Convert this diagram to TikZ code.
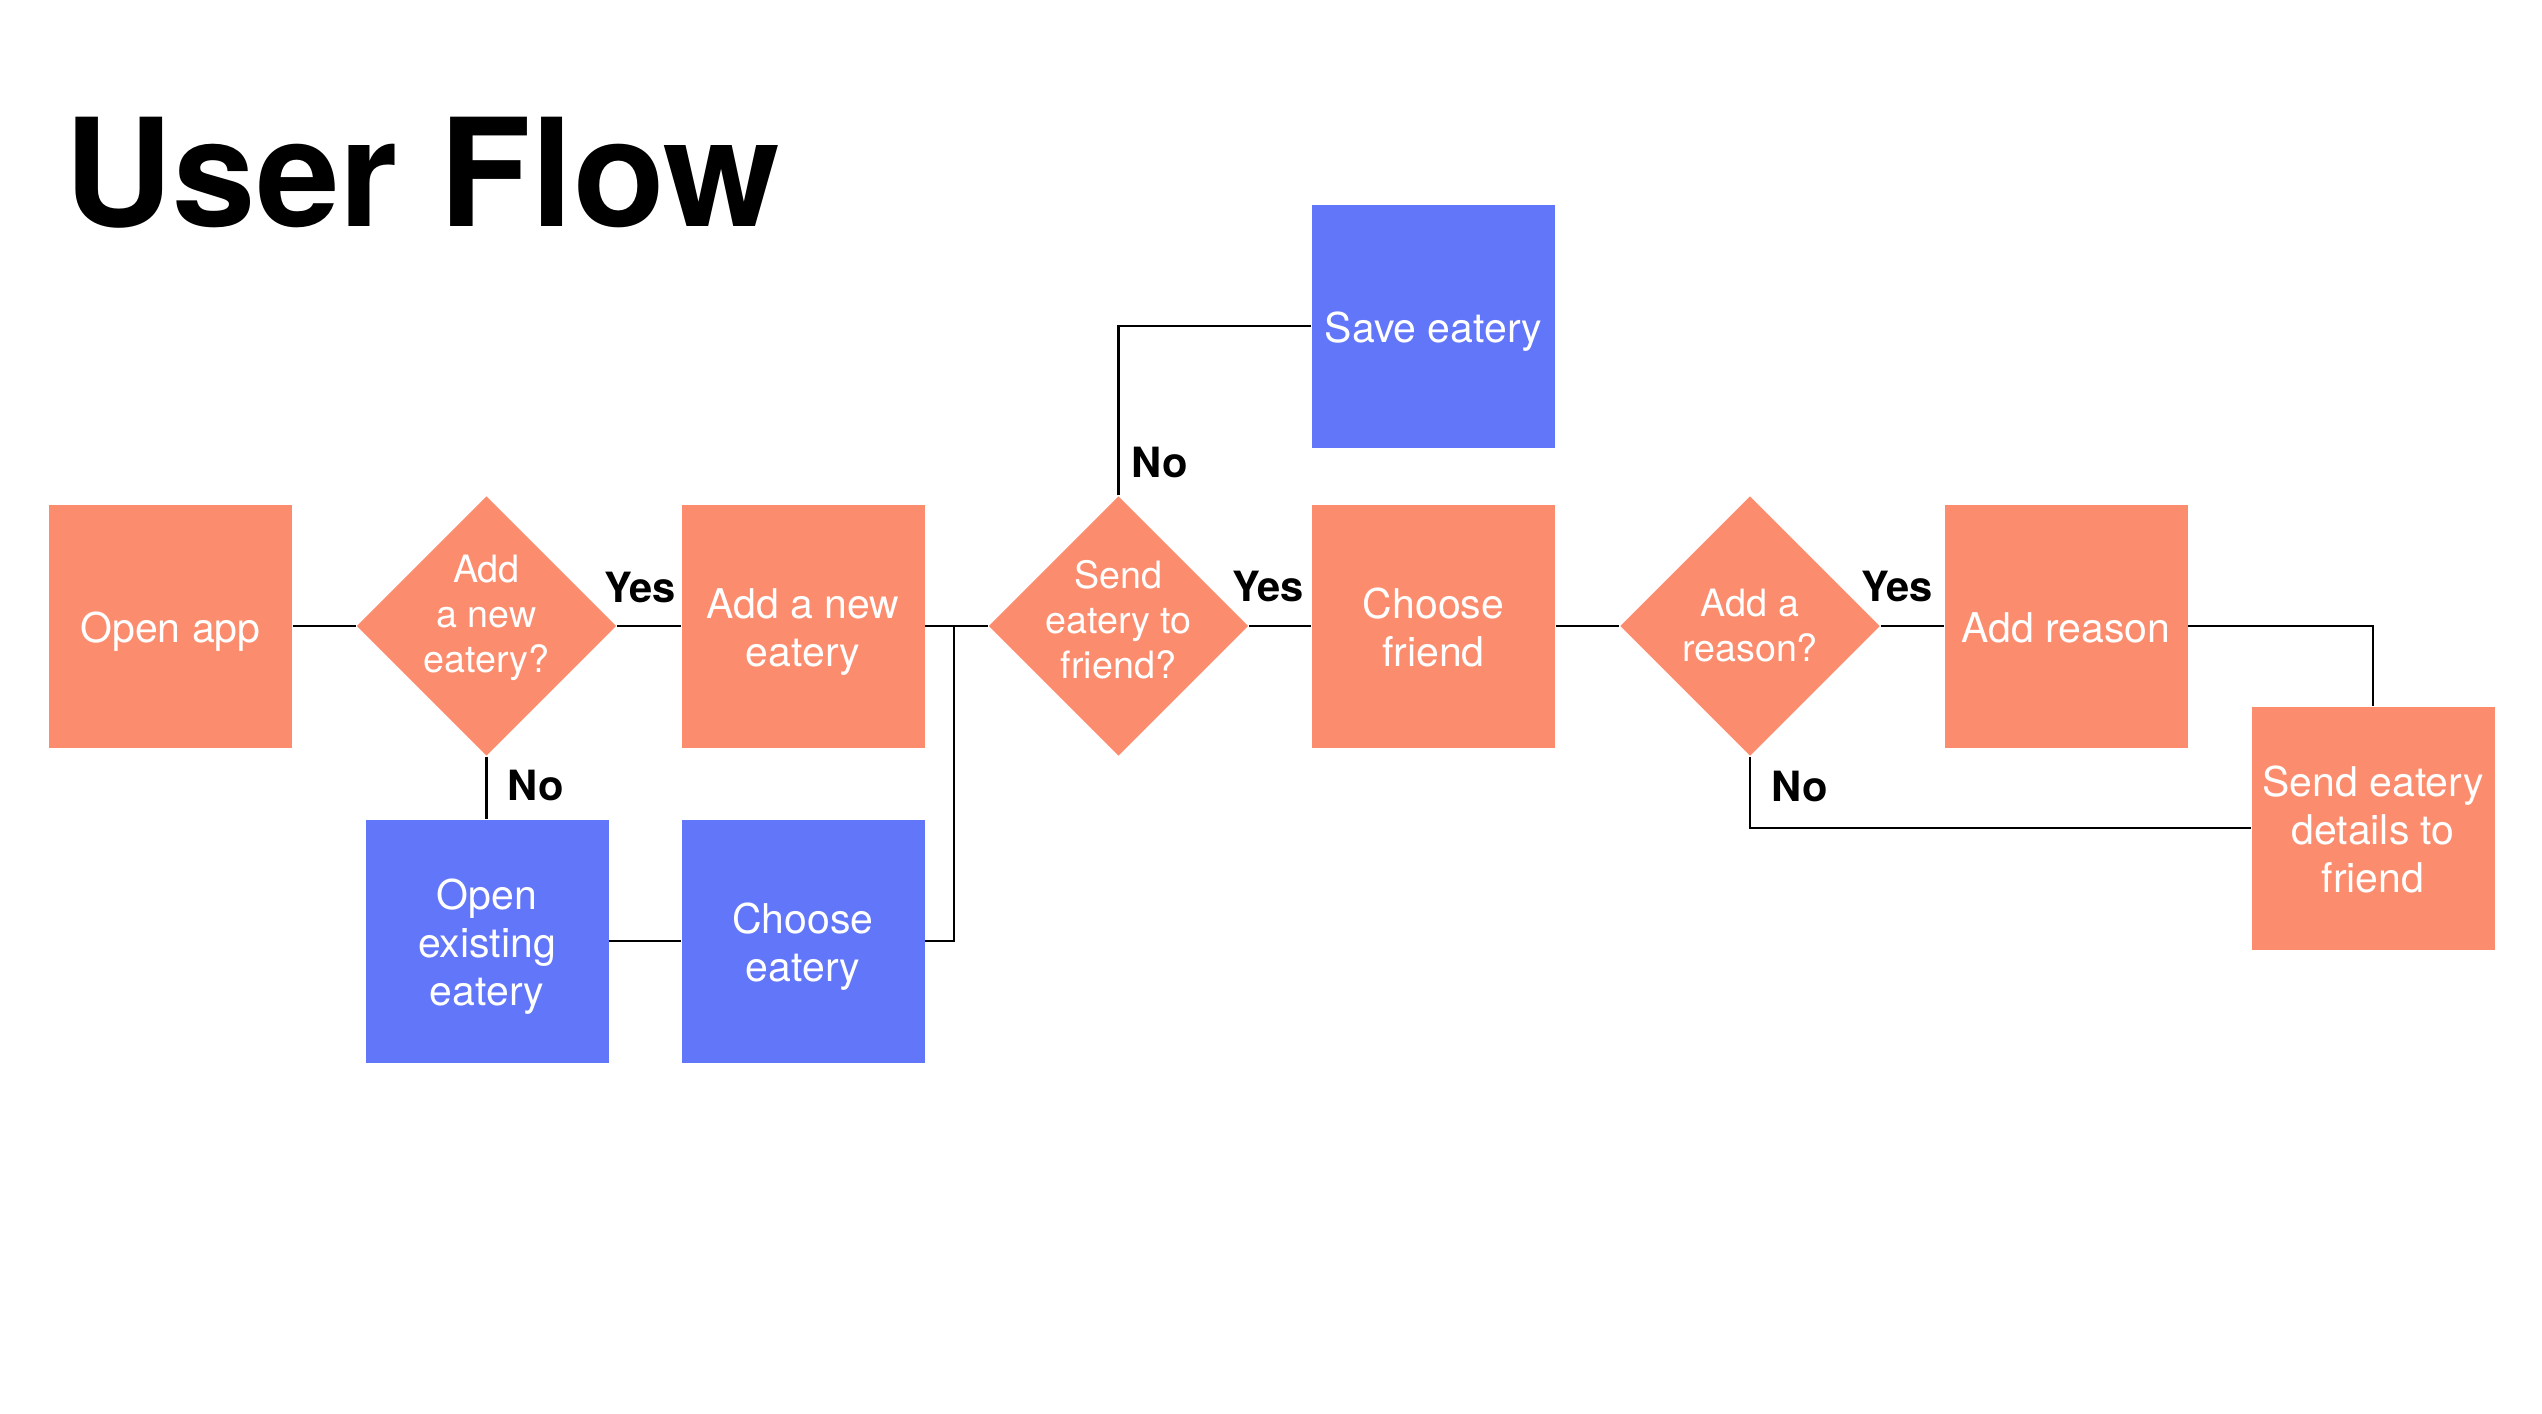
\documentclass[tikz,border=0pt]{standalone}
\usepackage{fontspec}
\setmainfont{TeX Gyre Heros}
\usetikzlibrary{shapes.geometric,calc}
\definecolor{salmon}{RGB}{252,140,110}
\definecolor{bluebox}{RGB}{98,118,250}
\newcommand\bxtop{\rule{0pt}{12.6pt}}
\newcommand\bxbot{\rule[-3pt]{0pt}{0pt}}
\begin{document}
\begin{tikzpicture}[x=0.3pt,y=-0.3pt,
  box/.style={rectangle, minimum width=72.9pt, minimum height=72.9pt, inner sep=0pt,
    text=white, align=center, font=\fontsize{12.3}{14.4}\selectfont},
  obox/.style={box, fill=salmon},
  bbox/.style={box, fill=bluebox},
  dia/.style={diamond, fill=salmon, minimum width=78pt, minimum height=78pt, inner sep=0pt, shape aspect=1},
  dtext/.style={text=white, align=center, inner sep=0pt, font=\fontsize{11.3}{13.5}\selectfont},
  lab/.style={anchor=base west, inner sep=0pt, font=\bfseries\fontsize{12.5}{14}\selectfont},
  conn/.style={draw=black, line width=0.75pt}
]
\useasboundingbox[fill=white] (0,0) rectangle (2542,1414);

\node[anchor=base west, inner sep=0pt, font=\bfseries\fontsize{45}{50}\selectfont] (title) at (64,226) {User Flow};

% main row
\node[obox] (open) at (170.5,626) {\bxtop Open app\bxbot};
\node[dia] (d1) at (486.5,626) {};
\node[dtext] (d1t) at (486.5,618) {Add\\a new\\eatery?};
\node[obox] (addnew) at (803,626) {\bxtop Add a new\\eatery\bxbot};
\node[dia] (d2) at (1118.5,626) {};
\node[dtext] (d2t) at (1118.5,620) {Send\\eatery to\\friend?};
\node[obox] (cf) at (1433.5,626) {\bxtop Choose\\friend\bxbot};
\node[dia] (d3) at (1750,626) {};
\node[dtext] (d3t) at (1750,626) {Add a\\reason?};
\node[obox] (ar) at (2066,626) {\bxtop Add reason\bxbot};
\node[obox] (send) at (2373,828) {\bxtop Send eatery\\details to\\friend\bxbot};

% blue boxes
\node[bbox] (save) at (1433.5,326) {\bxtop Save eatery\bxbot};
\node[bbox] (oe) at (487,941) {\bxtop Open\\existing\\eatery\bxbot};
\node[bbox] (ce) at (803,941) {\bxtop Choose\\eatery\bxbot};

\coordinate (j) at (954,626);

% connectors
\draw[conn] (open) -- (d1);
\draw[conn] (d1) -- (addnew);
\draw[conn] (d1.south) -- (d1.south |- oe.north);
\draw[conn] (oe) -- (ce);
\draw[conn] (addnew) -- (d2);
\draw[conn] (ce.east) -| (j);
\draw[conn] (d2.north) |- (save.west);
\draw[conn] (d2) -- (cf);
\draw[conn] (cf) -- (d3);
\draw[conn] (d3) -- (ar);
\draw[conn] (ar.east) -| (send.north);
\draw[conn] (d3.south) |- (send.west);

% labels
\node[lab] (l1) at (604,602) {Yes};
\node[lab] (l2) at (507,800) {No};
\node[lab] (l3) at (1131,477) {No};
\node[lab] (l4) at (1232,601) {Yes};
\node[lab] (l5) at (1861,601) {Yes};
\node[lab] (l6) at (1771,801) {No};
\end{tikzpicture}
\end{document}
